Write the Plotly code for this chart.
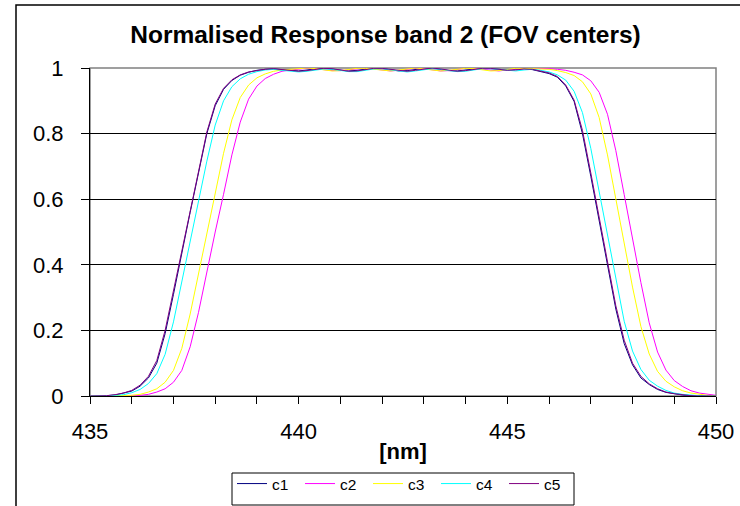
import plotly.graph_objects as go

# Wavelength grid [nm]
wavelength = [
    435.0, 435.2, 435.4, 435.6, 435.8, 436.0, 436.2, 436.4, 436.6, 436.8,
    437.0, 437.2, 437.4, 437.6, 437.8, 438.0, 438.2, 438.4, 438.6, 438.8,
    439.0, 439.2, 439.4, 439.6, 439.8, 440.0, 440.2, 440.4, 440.6, 440.8,
    441.0, 441.2, 441.4, 441.6, 441.8, 442.0, 442.2, 442.4, 442.6, 442.8,
    443.0, 443.2, 443.4, 443.6, 443.8, 444.0, 444.2, 444.4, 444.6, 444.8,
    445.0, 445.2, 445.4, 445.6, 445.8, 446.0, 446.2, 446.4, 446.6, 446.8,
    447.0, 447.2, 447.4, 447.6, 447.8, 448.0, 448.2, 448.4, 448.6, 448.8,
    449.0, 449.2, 449.4, 449.6, 449.8, 450.0,
]

# Normalised spectral response of each FOV center
c1 = [
    0.0, 0.0, 0.001, 0.003, 0.008, 0.015, 0.03, 0.055, 0.10, 0.19,
    0.31, 0.44, 0.56, 0.68, 0.80, 0.885, 0.935, 0.962, 0.978, 0.987,
    0.993, 0.996,
    0.997, 0.995, 0.992, 0.991, 0.994, 0.998, 0.999, 0.997, 0.993, 0.991,
    0.993, 0.997, 1.0, 0.998, 0.994, 0.991, 0.992, 0.996, 0.999, 0.999,
    0.995, 0.992, 0.991, 0.994, 0.998, 1.0, 0.998, 0.995, 0.994, 0.996,
    0.998,
    0.995, 0.99, 0.983, 0.972, 0.945, 0.898, 0.80, 0.67, 0.53, 0.40,
    0.265, 0.16, 0.095, 0.055, 0.035, 0.02, 0.011, 0.006, 0.003, 0.001,
    0.0, 0.0, 0.0,
]
c2 = [
    0.0, 0.0, 0.0, 0.0, 0.0, 0.001, 0.002, 0.005, 0.012, 0.022,
    0.042, 0.078, 0.15, 0.255, 0.38, 0.50, 0.615, 0.735, 0.835, 0.905,
    0.945, 0.968, 0.981, 0.99, 0.994, 0.996,
    0.999, 0.998, 0.995, 0.992, 0.992, 0.995, 0.998, 1.0, 0.997, 0.993,
    0.991, 0.993, 0.997, 0.999, 0.998, 0.994, 0.991, 0.992, 0.996, 0.999,
    0.999, 0.996, 0.992, 0.991, 0.994, 0.998, 1.0, 0.999, 0.999,
    0.998, 0.996, 0.993, 0.987, 0.979, 0.961, 0.926, 0.859, 0.748, 0.614,
    0.478, 0.346, 0.223, 0.134, 0.079, 0.047, 0.029, 0.016, 0.009, 0.005,
    0.002,
]
c3 = [
    0.0, 0.0, 0.0, 0.0, 0.001, 0.002, 0.005, 0.012, 0.022, 0.042,
    0.078, 0.145, 0.25, 0.375, 0.50, 0.62, 0.74, 0.842, 0.91, 0.948,
    0.97, 0.982, 0.99, 0.994, 0.996,
    0.998, 1.0, 0.998, 0.994, 0.991, 0.992, 0.996, 0.999, 0.999, 0.996,
    0.992, 0.991, 0.994, 0.998, 1.0, 0.997, 0.993, 0.991, 0.993, 0.997,
    0.999, 0.998, 0.994, 0.991, 0.992, 0.996, 0.999, 0.999, 0.998, 0.997,
    0.996, 0.992, 0.986, 0.977, 0.958, 0.921, 0.849, 0.735, 0.60, 0.465,
    0.332, 0.212, 0.128, 0.075, 0.045, 0.028, 0.016, 0.009, 0.005, 0.002,
    0.001,
]
c4 = [
    0.0, 0.0, 0.0, 0.002, 0.004, 0.010, 0.020, 0.038, 0.068, 0.127,
    0.226, 0.349, 0.476, 0.596, 0.716, 0.826, 0.90, 0.943, 0.967, 0.981,
    0.989, 0.994, 0.996,
    0.993, 0.990, 0.988, 0.990, 0.994, 0.997, 0.996, 0.992, 0.989, 0.989,
    0.993, 0.997, 0.998, 0.995, 0.990, 0.988, 0.991, 0.995, 0.998, 0.996,
    0.992, 0.989, 0.990, 0.994, 0.998, 0.998, 0.995, 0.992, 0.991, 0.994,
    0.996,
    0.993, 0.988, 0.979, 0.963, 0.929, 0.864, 0.755, 0.621, 0.485, 0.353,
    0.228, 0.137, 0.081, 0.048, 0.030, 0.017, 0.009, 0.005, 0.002, 0.001,
    0.0, 0.0,
]
c5 = [
    0.0, 0.0, 0.001, 0.004, 0.009, 0.017, 0.033, 0.06, 0.108, 0.20,
    0.32, 0.45, 0.57, 0.69, 0.805, 0.89, 0.938, 0.964, 0.979, 0.988,
    0.993, 0.996,
    0.998, 0.996, 0.993, 0.990, 0.992, 0.996, 0.999, 0.998, 0.994, 0.990,
    0.991, 0.995, 0.999, 0.999, 0.996, 0.992, 0.990, 0.993, 0.997, 1.0,
    0.997, 0.993, 0.990, 0.992, 0.996, 0.999, 0.999, 0.996, 0.993, 0.994,
    0.997,
    0.996, 0.991, 0.985, 0.974, 0.948, 0.902, 0.81, 0.68, 0.545, 0.41,
    0.275, 0.17, 0.10, 0.06, 0.037, 0.022, 0.012, 0.007, 0.003, 0.001,
    0.0, 0.0, 0.0,
]

series_names = ["c1", "c2", "c3", "c4", "c5"]
series_values = [c1, c2, c3, c4, c5]
series_colors = ["#000080", "#FF00FF", "#FFFF00", "#00FFFF", "#800080"]

y_ticks = [0, 0.2, 0.4, 0.6, 0.8, 1]
y_tick_text = ["0", "0.2", "0.4", "0.6", "0.8", "1"]
x_ticks = [435, 440, 445, 450]

for vals in series_values:
    assert len(vals) == len(wavelength)

FONT = "Liberation Sans, Arial, sans-serif"

# figure geometry (pixels)
W, H = 740, 506
L, R, T, B = 90, 24, 68, 110
pw, ph = W - L - R, H - T - B


def px_x(p):
    return (p - L) / pw


def px_y(p):
    return (H - B - p) / ph


fig = go.Figure()
for name, vals, col in zip(series_names, series_values, series_colors):
    fig.add_trace(go.Scatter(
        x=wavelength, y=vals, name=name, mode="lines",
        line=dict(color=col, width=1),
    ))

fig.update_layout(
    width=W, height=H,
    margin=dict(l=L, r=R, t=T, b=B, pad=0, autoexpand=False),
    paper_bgcolor="white", plot_bgcolor="white",
    font=dict(family=FONT, color="black"),
    title=dict(
        text="<b>Normalised Response band 2 (FOV centers)</b>",
        font=dict(size=24.5, family=FONT, color="black"),
        x=px_x(385.5), xref="paper", xanchor="center",
        y=1 - 34 / H, yref="container", yanchor="middle",
    ),
    showlegend=True,
    legend=dict(
        orientation="h",
        x=px_x(232), y=px_y(467), xanchor="left", yanchor="top",
        bgcolor="rgba(0,0,0,0)", borderwidth=0,
        font=dict(size=15.5, family=FONT),
        entrywidth=23, entrywidthmode="pixels",
        itemwidth=30,
        tracegroupgap=0,
    ),
    xaxis=dict(
        range=[435, 450], tickvals=x_ticks, automargin=False,
        ticks="outside", ticklen=7, tickcolor="black", tickwidth=1,
        minor=dict(dtick=1, ticks="outside", ticklen=7, tickcolor="black",
                   showgrid=False),
        showline=True, linecolor="black", linewidth=1,
        showgrid=False, zeroline=False,
        tickfont=dict(size=22, family=FONT),
        ticklabelstandoff=9,
        title=dict(text="<b>[nm]</b>", font=dict(size=22, family=FONT),
                   standoff=0),
    ),
    yaxis=dict(
        range=[0, 1], tickvals=y_ticks, ticktext=y_tick_text, automargin=False,
        ticks="outside", ticklen=8, tickcolor="black", tickwidth=1,
        showline=True, linecolor="black", linewidth=1,
        showgrid=True, gridcolor="black", gridwidth=1,
        zeroline=False,
        tickfont=dict(size=22, family=FONT),
        ticklabelstandoff=13,
    ),
)

# grey plot-area frame (top and right edges)
fig.add_shape(type="rect", xref="paper", yref="paper",
              x0=0, x1=1, y0=0, y1=1,
              line=dict(color="#808080", width=1.5), layer="between")
# chart frame
fig.add_shape(type="rect", xref="paper", yref="paper",
              x0=px_x(16), x1=px_x(760), y0=px_y(530), y1=px_y(5),
              line=dict(color="black", width=1.5), layer="above")
# legend frame
fig.add_shape(type="rect", xref="paper", yref="paper",
              x0=px_x(232), x1=px_x(574), y0=px_y(505), y1=px_y(473),
              line=dict(color="black", width=1), layer="above")

fig.write_html("out.html")
